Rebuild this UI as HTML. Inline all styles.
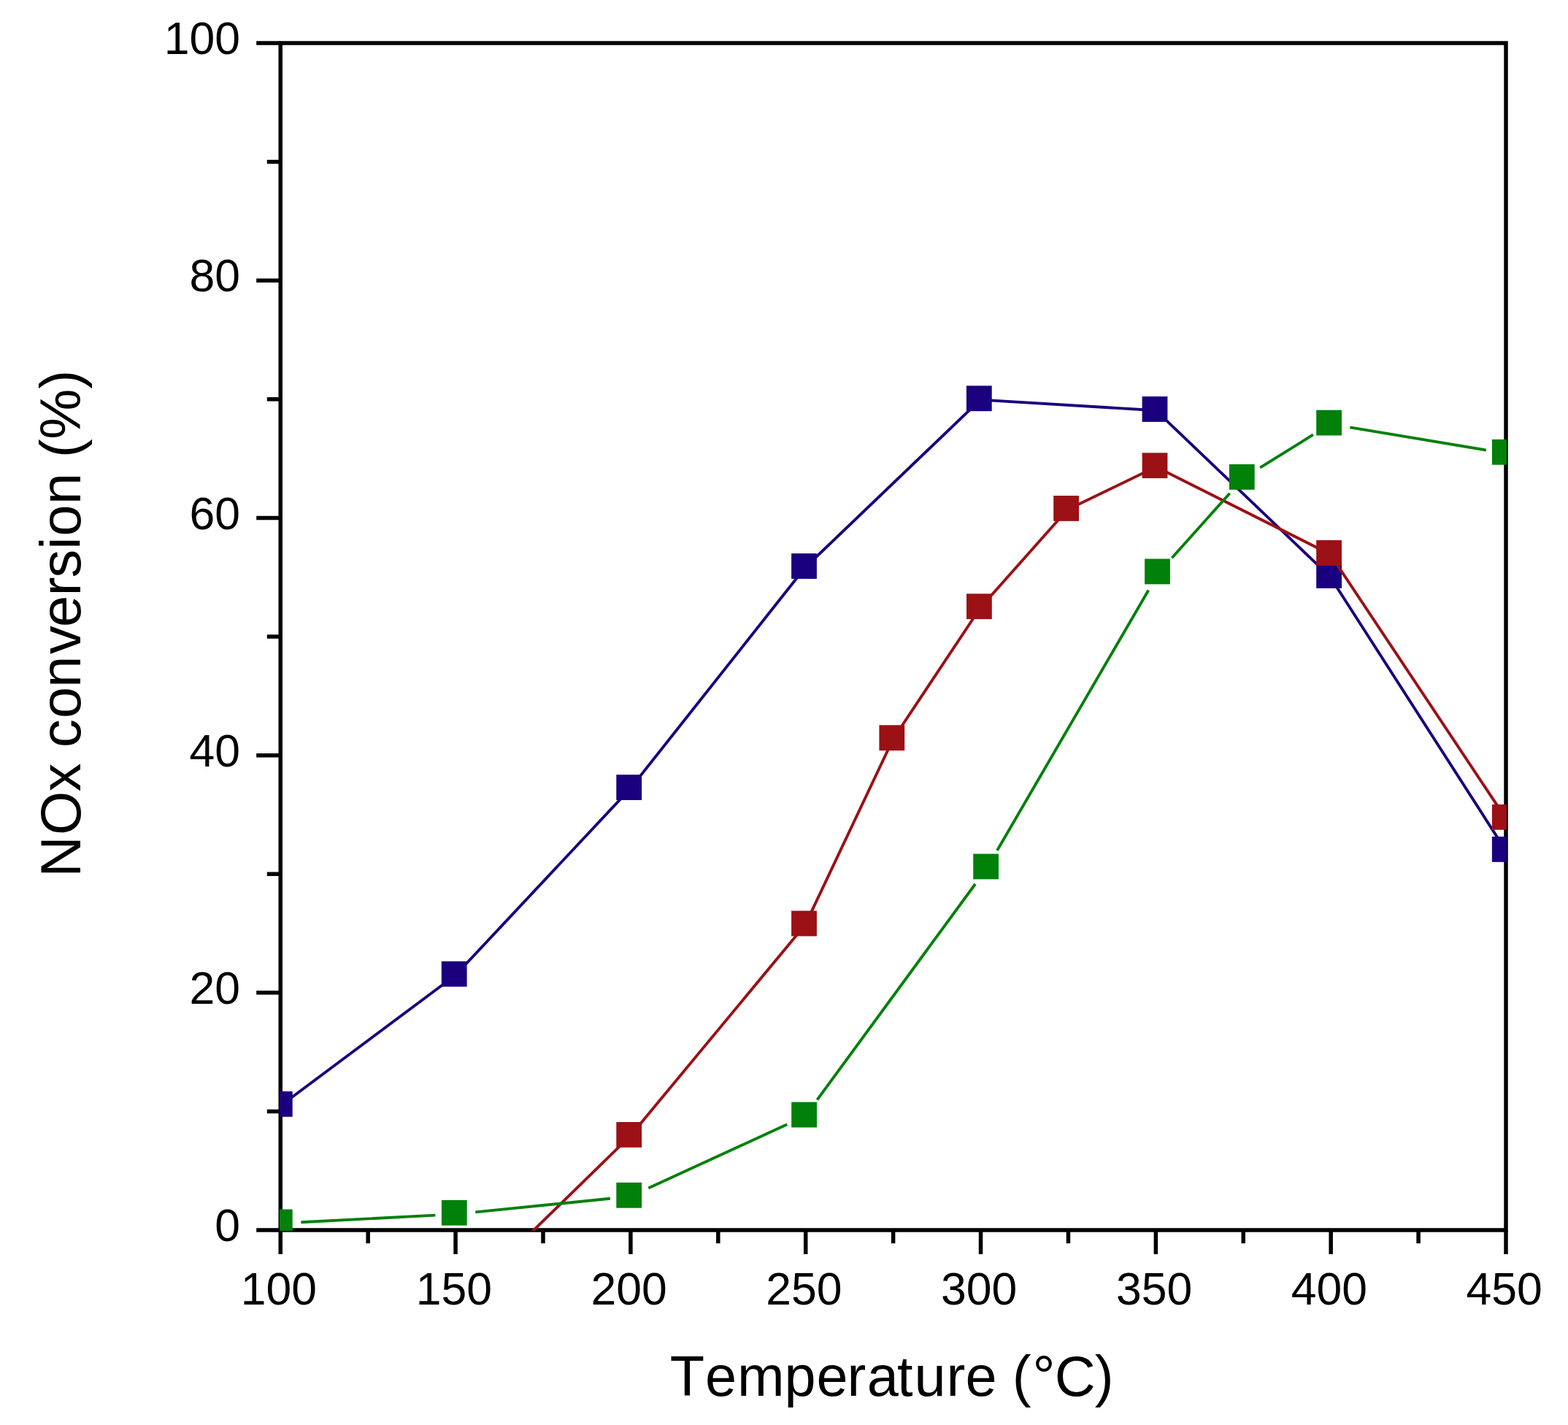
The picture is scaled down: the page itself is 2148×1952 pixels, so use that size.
<!DOCTYPE html><html><head><meta charset="utf-8"><title>NOx conversion vs Temperature</title><style>
html,body{margin:0;padding:0;background:#fff;}body{width:2148px;height:1952px;overflow:hidden;}svg{display:block;}text{font-family:"Liberation Sans",Arial,Helvetica,sans-serif;fill:#000;font-kerning:none;}
</style></head><body>
<svg width="2148" height="1952" viewBox="0 0 2148 1952">
<rect width="2148" height="1952" fill="#fff"/>
<defs><clipPath id="c"><rect x="382.9" y="58" width="1681.1" height="1628.0"/></clipPath></defs>
<g stroke="#000" stroke-width="5.5" fill="none">
<path d="M384.25 59.05 H2063.00 V1685.05 H384.25 Z"/>
<line x1="351.20" y1="1685.05" x2="384.25" y2="1685.05"/>
<line x1="365.80" y1="1522.45" x2="384.25" y2="1522.45"/>
<line x1="351.20" y1="1359.85" x2="384.25" y2="1359.85"/>
<line x1="365.80" y1="1197.25" x2="384.25" y2="1197.25"/>
<line x1="351.20" y1="1034.65" x2="384.25" y2="1034.65"/>
<line x1="365.80" y1="872.05" x2="384.25" y2="872.05"/>
<line x1="351.20" y1="709.45" x2="384.25" y2="709.45"/>
<line x1="365.80" y1="546.85" x2="384.25" y2="546.85"/>
<line x1="351.20" y1="384.25" x2="384.25" y2="384.25"/>
<line x1="365.80" y1="221.65" x2="384.25" y2="221.65"/>
<line x1="351.20" y1="59.05" x2="384.25" y2="59.05"/>
<line x1="384.25" y1="1685.05" x2="384.25" y2="1718.00"/>
<line x1="504.16" y1="1685.05" x2="504.16" y2="1703.20"/>
<line x1="624.07" y1="1685.05" x2="624.07" y2="1718.00"/>
<line x1="743.98" y1="1685.05" x2="743.98" y2="1703.20"/>
<line x1="863.89" y1="1685.05" x2="863.89" y2="1718.00"/>
<line x1="983.80" y1="1685.05" x2="983.80" y2="1703.20"/>
<line x1="1103.71" y1="1685.05" x2="1103.71" y2="1718.00"/>
<line x1="1223.62" y1="1685.05" x2="1223.62" y2="1703.20"/>
<line x1="1343.54" y1="1685.05" x2="1343.54" y2="1718.00"/>
<line x1="1463.45" y1="1685.05" x2="1463.45" y2="1703.20"/>
<line x1="1583.36" y1="1685.05" x2="1583.36" y2="1718.00"/>
<line x1="1703.27" y1="1685.05" x2="1703.27" y2="1703.20"/>
<line x1="1823.18" y1="1685.05" x2="1823.18" y2="1718.00"/>
<line x1="1943.09" y1="1685.05" x2="1943.09" y2="1703.20"/>
<line x1="2063.00" y1="1685.05" x2="2063.00" y2="1718.00"/>
</g>
<g font-size="62.5">
<text x="329.0" y="1700.25" text-anchor="end">0</text>
<text x="329.0" y="1375.05" text-anchor="end">20</text>
<text x="329.0" y="1049.85" text-anchor="end">40</text>
<text x="329.0" y="724.65" text-anchor="end">60</text>
<text x="329.0" y="399.45" text-anchor="end">80</text>
<text x="329.0" y="74.25" text-anchor="end">100</text>
<text x="381.95" y="1786.5" text-anchor="middle">100</text>
<text x="621.77" y="1786.5" text-anchor="middle">150</text>
<text x="861.59" y="1786.5" text-anchor="middle">200</text>
<text x="1101.41" y="1786.5" text-anchor="middle">250</text>
<text x="1341.24" y="1786.5" text-anchor="middle">300</text>
<text x="1581.06" y="1786.5" text-anchor="middle">350</text>
<text x="1820.88" y="1786.5" text-anchor="middle">400</text>
<text x="2060.70" y="1786.5" text-anchor="middle">450</text>
</g>
<text y="1911.9" font-size="77.5" x="917.8 965.9 1009.9 1074.6 1118.6 1160.6 1187.7 1229.1 1252.6 1296.4 1322.5">Temperature<tspan x="1386.7 1414.6 1444.7 1499.8">(°C)</tspan></text>
<text transform="translate(109.7,0) rotate(-90)" y="0" font-size="77.5" x="-1201.6 -1144.1 -1084.3">NOx<tspan x="-1024.1 -984.1 -941.7 -895.9 -858.9 -816.2 -791.5 -752.7 -734.6 -691.0">conversion</tspan><tspan x="-627.0 -601.8 -532.8">(%)</tspan></text>
<g clip-path="url(#c)">
<path d="M384.9 1514.2L623.8 1336.0M623.8 1336.0L863.3 1080.4M863.3 1080.4L1103.1 777.3M1103.1 777.3L1342.9 547.6M1342.9 547.6L1583.6 562.3M1583.6 562.3L1822.2 790.2M1822.2 790.2L2062.9 1165.2" stroke="#1a007e" stroke-width="3.9" fill="none" stroke-linecap="butt"/>
<g fill="#1a007e"><rect x="365.9" y="1495.0" width="34.8" height="34.8"/><rect x="604.8" y="1316.8" width="34.8" height="34.8"/><rect x="844.3" y="1061.2" width="34.8" height="34.8"/><rect x="1084.1" y="758.1" width="34.8" height="34.8"/><rect x="1323.9" y="528.4" width="34.8" height="34.8"/><rect x="1564.6" y="543.1" width="34.8" height="34.8"/><rect x="1803.2" y="771.0" width="34.8" height="34.8"/><rect x="2043.9" y="1146.0" width="34.8" height="34.8"/></g>
<path d="M384.9 2028.8L623.9 1789.7M623.9 1789.7L863.3 1556.2M863.3 1556.2L1103.1 1266.8M1103.1 1266.8L1223.4 1012.5M1223.4 1012.5L1343.0 832.5M1343.0 832.5L1462.2 698.2M1462.2 698.2L1583.6 639.5M1583.6 639.5L1822.2 759.2M1822.2 759.2L2062.9 1121.1" stroke="#9b1115" stroke-width="3.9" fill="none" stroke-linecap="butt"/>
<g fill="#9b1115"><rect x="844.3" y="1537.0" width="34.8" height="34.8"/><rect x="1084.1" y="1247.6" width="34.8" height="34.8"/><rect x="1204.4" y="993.3" width="34.8" height="34.8"/><rect x="1324.0" y="813.3" width="34.8" height="34.8"/><rect x="1443.2" y="679.0" width="34.8" height="34.8"/><rect x="1564.6" y="620.3" width="34.8" height="34.8"/><rect x="1803.2" y="740.0" width="34.8" height="34.8"/><rect x="2043.9" y="1101.9" width="34.8" height="34.8"/></g>
<path d="M412.4 1674.3L596.4 1664.6M651.3 1660.4L835.9 1641.8M888.3 1627.6L1078.2 1540.3M1119.4 1506.6L1336.0 1211.0M1366.0 1165.0L1573.3 808.5M1605.4 764.2L1684.6 675.7M1726.2 640.7L1798.9 595.4M1849.3 585.4L2035.8 616.6" stroke="#01800a" stroke-width="3.9" fill="none" stroke-linecap="butt"/>
<g fill="#01800a"><rect x="365.9" y="1656.6" width="34.8" height="34.8"/><rect x="604.9" y="1643.9" width="34.8" height="34.8"/><rect x="844.3" y="1619.9" width="34.8" height="34.8"/><rect x="1084.2" y="1509.6" width="34.8" height="34.8"/><rect x="1333.2" y="1169.6" width="34.8" height="34.8"/><rect x="1568.1" y="765.5" width="34.8" height="34.8"/><rect x="1683.9" y="636.0" width="34.8" height="34.8"/><rect x="1803.2" y="561.7" width="34.8" height="34.8"/><rect x="2043.9" y="601.9" width="34.8" height="34.8"/></g>
</g>
</svg></body></html>
